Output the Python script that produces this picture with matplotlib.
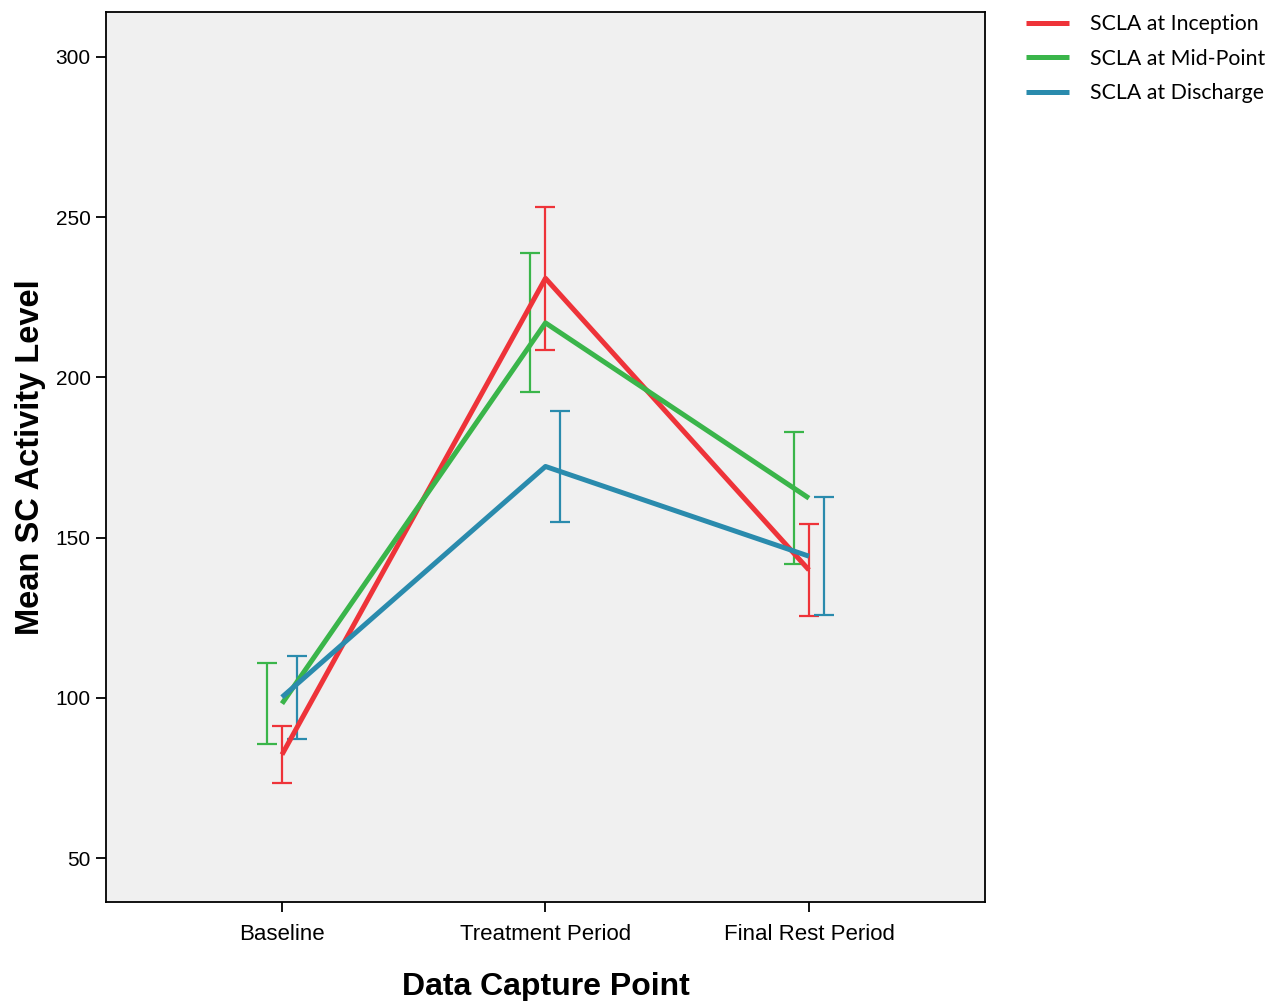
import numpy as np
import matplotlib.pyplot as plt

# Data capture points and group means with error bar half-widths
categories = ['Baseline', 'Treatment Period', 'Final Rest Period']
series_names = ['SCLA at Inception', 'SCLA at Mid-Point', 'SCLA at Discharge']

inception_mean = [82.3, 230.9, 139.9]
inception_err = [8.9, 22.3, 14.3]

midpoint_mean = [98.2, 217.0, 162.3]
midpoint_err = [12.6, 21.7, 20.5]

discharge_mean = [100.2, 172.2, 144.2]
discharge_err = [12.9, 17.4, 18.4]

colors = ['#EE3339', '#3AB54A', '#2A8BAD']
offsets = [0.0, -0.057, 0.057]  # error bars are dodged, lines are not

fig = plt.figure(figsize=(12.83, 10.01), dpi=100)
ax = fig.add_axes([0.0826, 0.0989, 0.6851, 0.8891])
ax.set_facecolor('#F0F0F0')

x = np.arange(len(categories))
means = [inception_mean, midpoint_mean, discharge_mean]
errs = [inception_err, midpoint_err, discharge_err]

for name, m, e, c, off in zip(series_names, means, errs, colors, offsets):
    ax.plot(x, m, color=c, lw=3.6, label=name, solid_capstyle='butt', zorder=3)
    ax.errorbar(x + off, m, yerr=e, fmt='none', ecolor=c, elinewidth=1.6,
                capsize=7.5, capthick=1.6, zorder=2)

ax.set_xlim(-0.668, 2.668)
ax.set_ylim(36.3, 314)
ax.set_xticks(x)
ax.set_xticklabels(categories, fontsize=16, family='Liberation Sans')
ax.set_yticks([50, 100, 150, 200, 250, 300])
ax.set_yticklabels(['50', '100', '150', '200', '250', '300'], fontsize=15,
                   family='Liberation Sans')
ax.tick_params(length=7, width=1.3, color='black', pad=4)
ax.tick_params(axis='x', pad=9)

for s in ax.spines.values():
    s.set_linewidth(1.3)

ax.set_xlabel('Data Capture Point', fontsize=23, fontweight='bold',
              family='Liberation Sans', labelpad=19)
ax.set_ylabel('Mean SC Activity Level', fontsize=23.5, fontweight='bold',
              family='Liberation Sans', labelpad=7)

leg = ax.legend(loc='upper left', bbox_to_anchor=(1.025, 1.019), frameon=False,
                prop={'family': 'Lato', 'size': 15.3}, handlelength=2.0,
                handletextpad=1.0, labelspacing=0.68)

plt.savefig('out.png', dpi=100)
